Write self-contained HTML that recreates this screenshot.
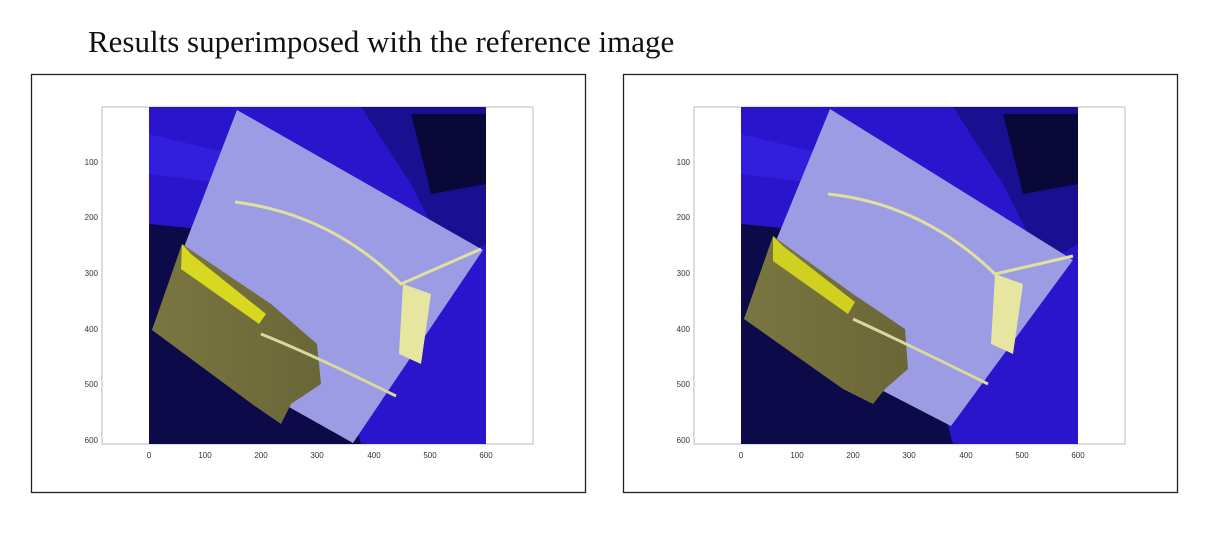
<!DOCTYPE html>
<html><head><style>
body{margin:0;background:#fff;width:1214px;height:536px;overflow:hidden;font-family:"Liberation Serif",serif}
</style></head><body>
<svg width="1214" height="536" xmlns="http://www.w3.org/2000/svg" font-family="Liberation Sans, sans-serif">
<text x="88" y="52" font-family="Liberation Serif, serif" font-size="31" fill="#111">Results superimposed with the reference image</text>
<defs>
<g id="panel">
  <rect x="0.5" y="0.5" width="554" height="418" fill="#fff" stroke="#222" stroke-width="1.3"/>
  <rect x="71" y="33" width="431" height="337" fill="#fff" stroke="#bbb"/>
  <rect x="118" y="33" width="337" height="337" fill="#2a14cc"/>
  <polygon points="118,150 220,160 300,260 330,370 118,370" fill="#0c0a48"/>
  <polygon points="330,33 455,33 455,170 420,190 380,110" fill="#181090"/>
  <polygon points="380,40 455,40 455,110 400,120" fill="#0a0838"/>
  <polygon points="118,60 200,80 200,110 118,100" fill="#3a2af0" opacity="0.5"/>
</g>
<g id="ticks" font-size="8" fill="#333">
  <g text-anchor="end">
  <text x="67" y="91">100</text><text x="67" y="146">200</text><text x="67" y="202">300</text>
  <text x="67" y="258">400</text><text x="67" y="313">500</text><text x="67" y="369">600</text></g>
  <g text-anchor="middle">
  <text x="118" y="384">0</text><text x="174" y="384">100</text><text x="230" y="384">200</text>
  <text x="286" y="384">300</text><text x="343" y="384">400</text><text x="399" y="384">500</text><text x="455" y="384">600</text></g>
</g>
<linearGradient id="yl" x1="0" y1="0" x2="1" y2="0">
<stop offset="0" stop-color="#7a7640"/><stop offset="1" stop-color="#6a6738"/></linearGradient>
</defs>

<g transform="translate(31,74)">
  <use href="#panel"/><use href="#ticks"/>
  <polygon points="206,36 452,176 322,369 121,256" fill="#9c9ce4"/>
  <polygon points="121,256 151,170 240,230 286,270 290,310 260,330 250,350 221,330" fill="url(#yl)"/>
  <polygon points="151,170 160,180 235,240 228,250 150,195" fill="#d8d820"/>
  <path d="M204,128 Q300,140 370,210 L450,175" stroke="#e0e0a0" stroke-width="3" fill="none"/>
  <path d="M230,260 Q280,280 365,322" stroke="#d8d8a0" stroke-width="3" fill="none"/>
  <polygon points="372,210 400,220 390,290 368,280" fill="#e6e6a0"/>
</g>
<g transform="translate(623,74)">
  <use href="#panel"/><use href="#ticks"/>
  <polygon points="207,35 450,186 328,352 121,245" fill="#9c9ce4"/>
  <polygon points="121,245 150,162 230,220 282,255 285,295 262,315 250,330 220,315" fill="url(#yl)"/>
  <polygon points="150,162 160,172 232,228 225,240 150,187" fill="#d0d020"/>
  <path d="M205,120 Q300,130 372,200 L450,182" stroke="#e0e0a0" stroke-width="3" fill="none"/>
  <path d="M230,245 Q280,268 365,310" stroke="#d8d8a0" stroke-width="3" fill="none"/>
  <polygon points="372,200 400,210 390,280 368,270" fill="#e6e6a0"/>
</g>
</svg>
</body></html>
